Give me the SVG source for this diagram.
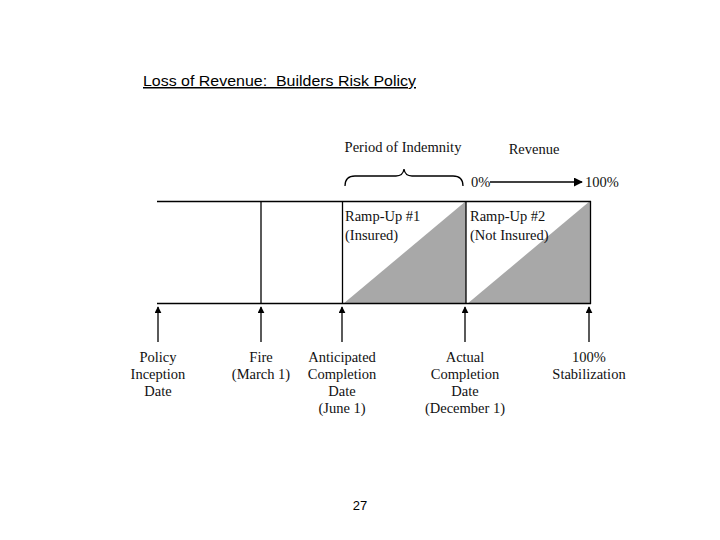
<svg xmlns="http://www.w3.org/2000/svg" width="720" height="540" viewBox="0 0 720 540">
<style>
.s{font-family:"Liberation Serif","DejaVu Serif",serif;font-size:14.5px;fill:#111;}
.c{text-anchor:middle;}
.ln{stroke:#000;stroke-width:1.3;fill:none;}
.tri{fill:#a8a8a8;}
.sans{font-family:"Liberation Sans",Arial,sans-serif;fill:#000;}
</style>
<defs>
<marker id="ah" viewBox="0 0 10 10" refX="9" refY="5" markerWidth="7" markerHeight="7" orient="auto" markerUnits="userSpaceOnUse">
<path d="M0,0 L10,5 L0,10 z" fill="#000"/>
</marker>
<marker id="ah2" viewBox="0 0 10 10" refX="9" refY="5" markerWidth="9" markerHeight="9" orient="auto" markerUnits="userSpaceOnUse">
<path d="M0,0 L10,5 L0,10 z" fill="#000"/>
</marker>
</defs>
<rect width="720" height="540" fill="#fff"/>
<g id="title">
<text class="sans" x="143" y="86" font-size="15" text-decoration="underline" textLength="273" lengthAdjust="spacingAndGlyphs">Loss of Revenue:&#160; Builders Risk Policy</text>
</g>
<g id="ramps">
<polygon class="tri" points="343,304 466,201 466,304"/>
<polygon class="tri" points="467,304 590,201 590,304"/>
</g>
<g id="grid">
<line class="ln" x1="157" y1="201.5" x2="591" y2="201.5"/>
<line class="ln" x1="157" y1="303.5" x2="591" y2="303.5"/>
<line class="ln" x1="261" y1="201" x2="261" y2="304"/>
<line class="ln" x1="342.5" y1="201" x2="342.5" y2="304"/>
<line class="ln" x1="466" y1="201" x2="466" y2="304"/>
<line class="ln" x1="590.5" y1="201" x2="590.5" y2="304"/>
</g>
<g id="ramp1-label">
<text class="s" x="345" y="221">Ramp-Up #1</text>
<text class="s" x="345" y="240">(Insured)</text>
</g>
<g id="ramp2-label">
<text class="s" x="470" y="221">Ramp-Up #2</text>
<text class="s" x="470" y="240">(Not Insured)</text>
</g>
<g id="indemnity">
<text class="s c" x="403" y="152">Period of Indemnity</text>
<path class="ln" d="M345,186 Q345,176 355,176 L396,176 Q403,176 404,169 Q405,176 412,176 L453,176 Q463,176 463,186"/>
</g>
<g id="revenue">
<text class="s c" x="534" y="154">Revenue</text>
<text class="s" x="471" y="187">0%</text>
<text class="s" x="585" y="187">100%</text>
</g>
<g id="connectors">
<line class="ln" x1="490" y1="182" x2="582" y2="182" stroke-width="1.2" marker-end="url(#ah2)"/>
<line class="ln" x1="158" y1="342" x2="158" y2="307" marker-end="url(#ah)"/>
<line class="ln" x1="261" y1="342" x2="261" y2="307" marker-end="url(#ah)"/>
<line class="ln" x1="342" y1="342" x2="342" y2="307" marker-end="url(#ah)"/>
<line class="ln" x1="465" y1="342" x2="465" y2="307" marker-end="url(#ah)"/>
<line class="ln" x1="589" y1="342" x2="589" y2="307" marker-end="url(#ah)"/>
</g>
<g id="policy">
<text class="s c" x="158" y="362">Policy</text>
<text class="s c" x="158" y="379">Inception</text>
<text class="s c" x="158" y="396">Date</text>
</g>
<g id="fire">
<text class="s c" x="261" y="362">Fire</text>
<text class="s c" x="261" y="379">(March 1)</text>
</g>
<g id="anticipated">
<text class="s c" x="342" y="362">Anticipated</text>
<text class="s c" x="342" y="379">Completion</text>
<text class="s c" x="342" y="396">Date</text>
<text class="s c" x="342" y="413">(June 1)</text>
</g>
<g id="actual">
<text class="s c" x="465" y="362">Actual</text>
<text class="s c" x="465" y="379">Completion</text>
<text class="s c" x="465" y="396">Date</text>
<text class="s c" x="465" y="413">(December 1)</text>
</g>
<g id="stabilization">
<text class="s c" x="589" y="362">100%</text>
<text class="s c" x="589" y="379">Stabilization</text>
</g>
<g id="page">
<text class="sans" x="360" y="510" font-size="13" text-anchor="middle">27</text>
</g>
</svg>
